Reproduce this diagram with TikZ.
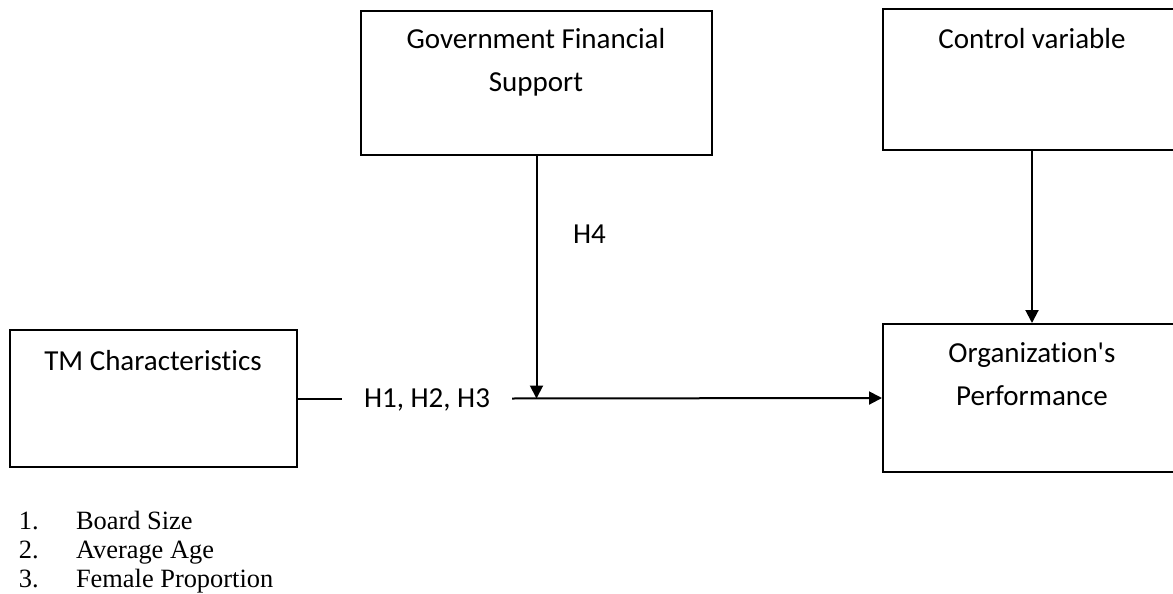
\documentclass[tikz,border=0pt]{standalone}
\usepackage{fontspec}
\newfontfamily\boxfont{Carlito}[Ligatures=NoCommon]
\newfontfamily\listfont{Liberation Serif}
\usetikzlibrary{arrows.meta}
\tikzset{
  box/.style={draw,line width=2pt,inner sep=0pt},
  lbl/.style={inner sep=0pt,align=center,font=\boxfont\fontsize{29}{43}\selectfont},
  item/.style={inner sep=0pt,anchor=base west,font=\listfont\fontsize{26.4}{29}\selectfont}
}
\begin{document}
\begin{tikzpicture}[>={Triangle[length=13pt,width=13pt]},x=1pt,y=-1pt,line width=2pt]
            \useasboundingbox (0,0) rectangle (1173,594);
            % cac hop
            \node[box,minimum width=351pt,minimum height=144pt] (gfs) at (536.5,83) {};
            \node[box,minimum width=298pt,minimum height=141pt] (ctrl) at (1032,79.5) {};
            \node[box,minimum width=287pt,minimum height=137pt] (tmc) at (153.5,398.5) {};
            \node[box,minimum width=298pt,minimum height=148pt] (org) at (1032,398) {};
            % base = dong cuoi
            \node[lbl,anchor=base] (gfst) at (536,92) {Government Financial\\Support};
            \node[lbl,anchor=base] (ctrlt) at (1032,49) {Control variable};
            \node[lbl,anchor=base] (tmct) at (153,370) {TM Characteristics};
            \node[lbl,anchor=base] (orgt) at (1032,405) {Organization's\\Performance};
            % nhan gia thuyet
            \node[lbl,anchor=base west] (h4) at (572,243) {H4};
            \node[lbl,minimum width=168pt] (h) at (427,400) {H1, H2, H3};
            \draw (tmc.east) -- (tmc.east-|h.west);
            \draw[->] (tmc.east-|h.east) -- (org.west);
            \draw[->] (gfs.south) -- (gfs.south|-tmc.east);
            \draw[->] (ctrl.south) -- (org.north);
            % danh sach
            \foreach \t [count=\i] in {Board Size,Average Age,Female Proportion}{
                \node[item] (n\i) at (18,500+29*\i) {\i.};
                \node[item] (t\i) at (75,500+29*\i) {\t};
            }
        \end{tikzpicture}
\end{document}
